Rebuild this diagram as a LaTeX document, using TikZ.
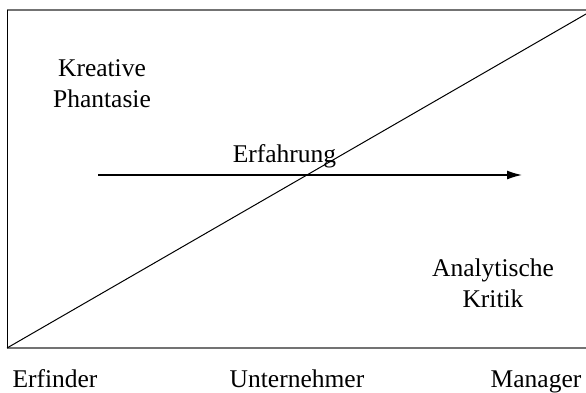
\documentclass[tikz,border=0pt]{standalone}
\usepackage{fontspec}
\setmainfont{Liberation Serif}
\usetikzlibrary{arrows.meta}
\begin{document}
\begin{tikzpicture}[x=1pt,y=-1pt,
    every node/.style={inner sep=0pt, font=\fontsize{25.5}{31}\selectfont},
    frame/.style={line width=2pt, color=black!55}]
  \useasboundingbox (0,0) rectangle (586,392);

  \coordinate (tl) at (7,10);
  \coordinate (bl) at (7,348);
  \coordinate (tr) at (586,10);
  \coordinate (br) at (586,348);
  \coordinate (diagend) at (586,14);

  \draw[frame] (tl) -- (tr);
  \draw[frame] (bl) -- (br);
  \draw[line width=1pt] (tl) -- (bl);
  \draw[line width=1pt] (bl) -- (diagend);

  \coordinate (expstart) at (98,175);
  \coordinate (expend)   at (522,175);
  \draw[-{Latex[length=15pt,width=9pt]},line width=1.3pt] (expstart) -- (expend);

  \node[align=center] (kreativ)  at (102,84)  {Kreative\\Phantasie};
  \node[align=center] (kritik)   at (493,283) {Analytische\\Kritik};
  \node[anchor=base]  (erfahr)   at (284.5,162) {Erfahrung};

  \node[anchor=base] (erfinder) at (55,387)  {Erfinder};
  \node[anchor=base] (untern)   at (297,387) {Unternehmer};
  \node[anchor=base] (manager)  at (536,387) {Manager};
\end{tikzpicture}
\end{document}
